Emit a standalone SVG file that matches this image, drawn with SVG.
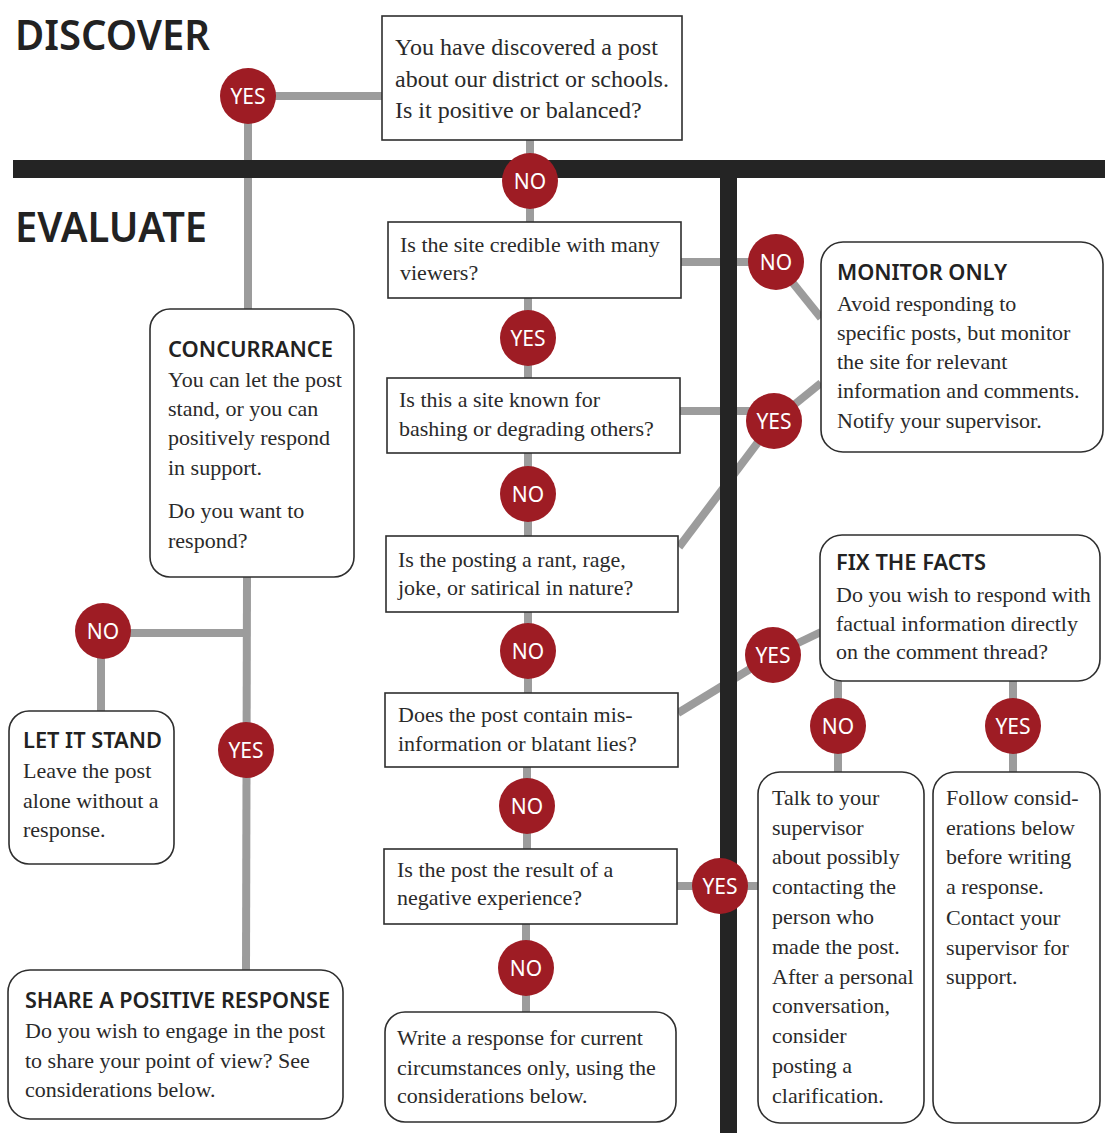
<svg xmlns="http://www.w3.org/2000/svg" width="1105" height="1135" viewBox="0 0 1105 1135">
<style>
.bg{fill:#ffffff}
.ln{stroke:#9c9c9c;stroke-width:8;fill:none;stroke-linecap:butt}
.bar{fill:#242424}
.box{fill:#ffffff;stroke:#2e2e2e;stroke-width:1.6}
.dot{fill:#9e1c24}
.dl{font-family:"Noto Sans","Open Sans",sans-serif;font-size:21px;fill:#ffffff;text-anchor:middle}
.t{font-family:"Liberation Serif","Times New Roman",serif;font-size:22px;fill:#2a2a2a}
.t24{font-family:"Liberation Serif","Times New Roman",serif;font-size:24px;fill:#2a2a2a}
.h{font-family:"Noto Sans","Open Sans",sans-serif;font-size:22px;font-weight:600;fill:#222222}
.sec{font-family:"Noto Sans","Open Sans",sans-serif;font-size:42px;font-weight:600;fill:#222222}
</style>
<rect class="bg" x="0" y="0" width="1105" height="1135"/>

<g id="sections">
<text class="sec" x="15" y="50" textLength="195" lengthAdjust="spacingAndGlyphs">DISCOVER</text>
<text class="sec" x="15" y="242" textLength="192" lengthAdjust="spacingAndGlyphs">EVALUATE</text>
</g>

<g id="connectors">
<line class="ln" x1="248" y1="96" x2="382" y2="96"/>
<line class="ln" x1="248" y1="96" x2="248" y2="309"/>
<line class="ln" x1="530" y1="140" x2="530" y2="222"/>
<line class="ln" x1="528" y1="298" x2="528" y2="378"/>
<line class="ln" x1="528" y1="453" x2="528" y2="536"/>
<line class="ln" x1="528" y1="612" x2="528" y2="693"/>
<line class="ln" x1="527" y1="767" x2="527" y2="849"/>
<line class="ln" x1="526" y1="924" x2="526" y2="1012"/>
<line class="ln" x1="681" y1="262" x2="776" y2="262"/>
<line class="ln" x1="776" y1="262" x2="821" y2="318"/>
<line class="ln" x1="680" y1="411" x2="774" y2="411"/>
<line class="ln" x1="774" y1="421" x2="821" y2="383"/>
<line class="ln" x1="679" y1="547" x2="774" y2="421"/>
<line class="ln" x1="678" y1="713" x2="773" y2="655"/>
<line class="ln" x1="773" y1="655" x2="821" y2="632"/>
<line class="ln" x1="838" y1="681" x2="838" y2="772"/>
<line class="ln" x1="1013" y1="681" x2="1013" y2="772"/>
<line class="ln" x1="247" y1="577" x2="246" y2="970"/>
<line class="ln" x1="103" y1="633" x2="247" y2="633"/>
<line class="ln" x1="101" y1="631" x2="101" y2="711"/>
<line class="ln" x1="677" y1="886" x2="758" y2="886"/>
</g>

<g id="bars">
<rect class="bar" x="13" y="160" width="1092" height="18"/>
<rect class="bar" x="720" y="170" width="17" height="963"/>
</g>

<g id="q-discover">
<rect class="box" x="382" y="16" width="300" height="124"/>
<text class="t24" x="395" y="55">You have discovered a post</text>
<text class="t24" x="395" y="87">about our district or schools.</text>
<text class="t24" x="395" y="118">Is it positive or balanced?</text>
</g>

<g id="q-credible">
<rect class="box" x="388" y="222" width="293" height="76"/>
<text class="t" x="400" y="252">Is the site credible with many</text>
<text class="t" x="400" y="280">viewers?</text>
</g>

<g id="q-bashing">
<rect class="box" x="387" y="378" width="293" height="75"/>
<text class="t" x="399" y="407">Is this a site known for</text>
<text class="t" x="399" y="436">bashing or degrading others?</text>
</g>

<g id="q-rant">
<rect class="box" x="386" y="536" width="292" height="76"/>
<text class="t" x="398" y="567">Is the posting a rant, rage,</text>
<text class="t" x="398" y="595">joke, or satirical in nature?</text>
</g>

<g id="q-misinfo">
<rect class="box" x="385" y="693" width="293" height="74"/>
<text class="t" x="398" y="722">Does the post contain mis-</text>
<text class="t" x="398" y="751">information or blatant lies?</text>
</g>

<g id="q-negative">
<rect class="box" x="384" y="849" width="293" height="75"/>
<text class="t" x="397" y="877">Is the post the result of a</text>
<text class="t" x="397" y="905">negative experience?</text>
</g>

<g id="write-response">
<rect class="box" x="385" y="1012" width="291" height="110" rx="20"/>
<text class="t" x="397" y="1045">Write a response for current</text>
<text class="t" x="397" y="1075">circumstances only, using the</text>
<text class="t" x="397" y="1103">considerations below.</text>
</g>

<g id="concurrance">
<rect class="box" x="150" y="309" width="204" height="268" rx="20"/>
<text class="h" x="168" y="357" textLength="165" lengthAdjust="spacingAndGlyphs">CONCURRANCE</text>
<text class="t" x="168" y="387">You can let the post</text>
<text class="t" x="168" y="416">stand, or you can</text>
<text class="t" x="168" y="445">positively respond</text>
<text class="t" x="168" y="475">in support.</text>
<text class="t" x="168" y="518">Do you want to</text>
<text class="t" x="168" y="548">respond?</text>
</g>

<g id="monitor-only">
<rect class="box" x="821" y="242" width="282" height="210" rx="22"/>
<text class="h" x="837" y="280" textLength="170" lengthAdjust="spacingAndGlyphs">MONITOR ONLY</text>
<text class="t" x="837" y="311">Avoid responding to</text>
<text class="t" x="837" y="340">specific posts, but monitor</text>
<text class="t" x="837" y="369">the site for relevant</text>
<text class="t" x="837" y="398">information and comments.</text>
<text class="t" x="837" y="428">Notify your supervisor.</text>
</g>

<g id="fix-the-facts">
<rect class="box" x="820" y="535" width="280" height="146" rx="22"/>
<text class="h" x="836" y="570" textLength="150" lengthAdjust="spacingAndGlyphs">FIX THE FACTS</text>
<text class="t" x="836" y="602">Do you wish to respond with</text>
<text class="t" x="836" y="631">factual information directly</text>
<text class="t" x="836" y="659">on the comment thread?</text>
</g>

<g id="let-it-stand">
<rect class="box" x="9" y="711" width="165" height="153" rx="20"/>
<text class="h" x="23" y="748" textLength="139" lengthAdjust="spacingAndGlyphs">LET IT STAND</text>
<text class="t" x="23" y="778">Leave the post</text>
<text class="t" x="23" y="808">alone without a</text>
<text class="t" x="23" y="837">response.</text>
</g>

<g id="share-positive">
<rect class="box" x="8" y="970" width="335" height="149" rx="22"/>
<text class="h" x="25" y="1008" textLength="305" lengthAdjust="spacingAndGlyphs">SHARE A POSITIVE RESPONSE</text>
<text class="t" x="25" y="1038">Do you wish to engage in the post</text>
<text class="t" x="25" y="1068">to share your point of view? See</text>
<text class="t" x="25" y="1097">considerations below.</text>
</g>

<g id="talk-supervisor">
<rect class="box" x="758" y="772" width="166" height="351" rx="22"/>
<text class="t" x="772" y="805">Talk to your</text>
<text class="t" x="772" y="835">supervisor</text>
<text class="t" x="772" y="864">about possibly</text>
<text class="t" x="772" y="894">contacting the</text>
<text class="t" x="772" y="924">person who</text>
<text class="t" x="772" y="954">made the post.</text>
<text class="t" x="772" y="984">After a personal</text>
<text class="t" x="772" y="1013">conversation,</text>
<text class="t" x="772" y="1043">consider</text>
<text class="t" x="772" y="1073">posting a</text>
<text class="t" x="772" y="1103">clarification.</text>
</g>

<g id="follow-considerations">
<rect class="box" x="933" y="772" width="167" height="351" rx="22"/>
<text class="t" x="946" y="805">Follow consid-</text>
<text class="t" x="946" y="835">erations below</text>
<text class="t" x="946" y="864">before writing</text>
<text class="t" x="946" y="894">a response.</text>
<text class="t" x="946" y="925">Contact your</text>
<text class="t" x="946" y="955">supervisor for</text>
<text class="t" x="946" y="984">support.</text>
</g>

<g id="d-yes-discover"><circle class="dot" cx="248" cy="96" r="28"/><text class="dl" x="248" y="104">YES</text></g>
<g id="d-no-discover"><circle class="dot" cx="530" cy="181" r="28"/><text class="dl" x="530" y="189">NO</text></g>
<g id="d-yes-credible"><circle class="dot" cx="528" cy="338" r="28"/><text class="dl" x="528" y="346">YES</text></g>
<g id="d-no-credible"><circle class="dot" cx="776" cy="262" r="28"/><text class="dl" x="776" y="270">NO</text></g>
<g id="d-yes-bashing"><circle class="dot" cx="774" cy="421" r="28"/><text class="dl" x="774" y="429">YES</text></g>
<g id="d-no-bashing"><circle class="dot" cx="528" cy="494" r="28"/><text class="dl" x="528" y="502">NO</text></g>
<g id="d-no-rant"><circle class="dot" cx="528" cy="651" r="28"/><text class="dl" x="528" y="659">NO</text></g>
<g id="d-yes-misinfo"><circle class="dot" cx="773" cy="655" r="28"/><text class="dl" x="773" y="663">YES</text></g>
<g id="d-no-fix"><circle class="dot" cx="838" cy="726" r="28"/><text class="dl" x="838" y="734">NO</text></g>
<g id="d-yes-fix"><circle class="dot" cx="1013" cy="726" r="28"/><text class="dl" x="1013" y="734">YES</text></g>
<g id="d-no-concur"><circle class="dot" cx="103" cy="631" r="28"/><text class="dl" x="103" y="639">NO</text></g>
<g id="d-yes-concur"><circle class="dot" cx="246" cy="750" r="28"/><text class="dl" x="246" y="758">YES</text></g>
<g id="d-no-misinfo"><circle class="dot" cx="527" cy="806" r="28"/><text class="dl" x="527" y="814">NO</text></g>
<g id="d-yes-negative"><circle class="dot" cx="720" cy="886" r="28"/><text class="dl" x="720" y="894">YES</text></g>
<g id="d-no-negative"><circle class="dot" cx="526" cy="968" r="28"/><text class="dl" x="526" y="976">NO</text></g>
</svg>
